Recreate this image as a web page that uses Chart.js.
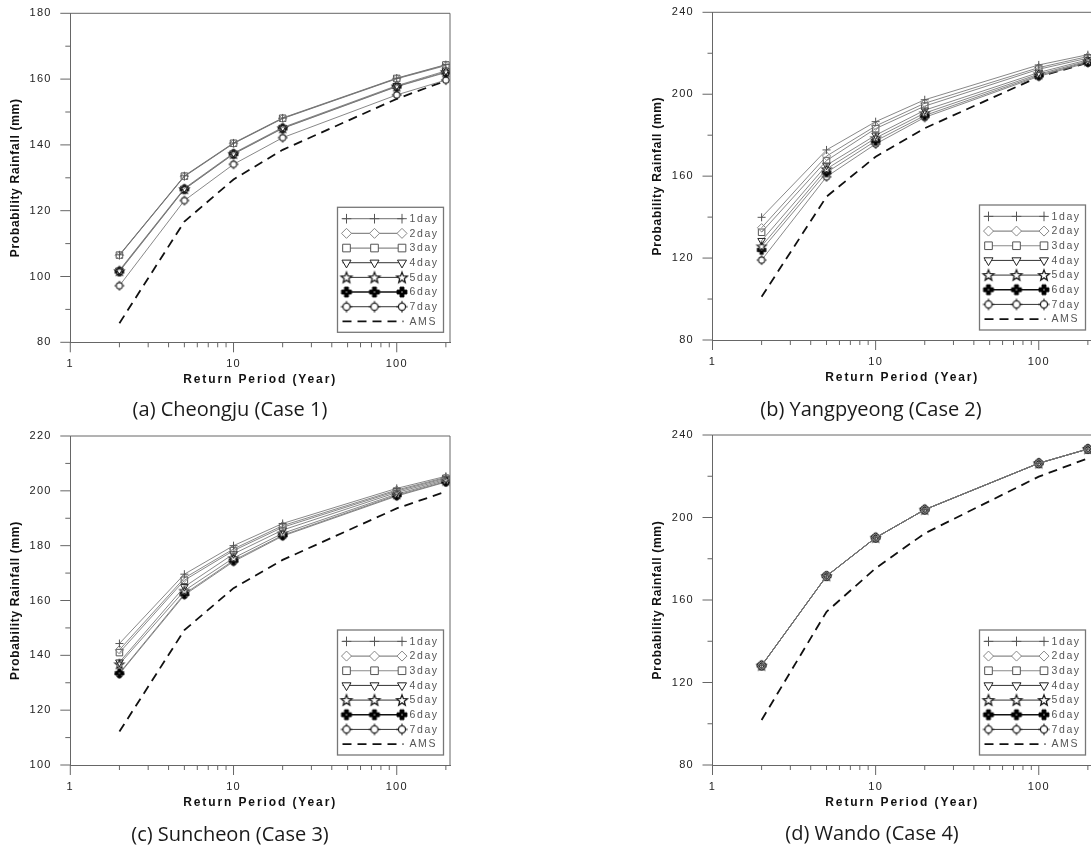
<!DOCTYPE html>
<html><head><meta charset="utf-8">
<script src="https://cdn.jsdelivr.net/npm/chart.js@4.4.1/dist/chart.umd.min.js"></script>
<style>
html,body{margin:0;padding:0;background:#fff;}
body{width:1091px;height:849px;overflow:hidden;position:relative;}
.panel{position:absolute;overflow:visible;}
canvas{display:block;}
.cap{position:absolute;font-family:"Open Sans",sans-serif;font-size:20px;color:#1a1a1a;white-space:nowrap;transform:translate(-50%,-50%);}
</style></head><body>
<div class="panel" style="left:0px;top:0px"><canvas id="ca"></canvas></div>
<div class="panel" style="left:545px;top:0px"><canvas id="cb"></canvas></div>
<div class="panel" style="left:0px;top:425px"><canvas id="cc"></canvas></div>
<div class="panel" style="left:545px;top:425px"><canvas id="cd"></canvas></div>
<div class="cap" style="left:230px;top:408px">(a) Cheongju (Case 1)</div>
<div class="cap" style="left:871px;top:408px">(b) Yangpyeong (Case 2)</div>
<div class="cap" style="left:230px;top:833px">(c) Suncheon (Case 3)</div>
<div class="cap" style="left:872px;top:832px">(d) Wando (Case 4)</div>
<script>
// ---------------- data ----------------
const periods = [2, 5, 10, 20, 100, 200];
const xTickValues = [1,2,3,4,5,6,7,8,9,10,20,30,40,50,60,70,80,90,100,200];
const xLabelValues = [1, 10, 100];
const seriesNames = ['1day','2day','3day','4day','5day','6day','7day','AMS'];

const yLabelsA = [80,100,120,140,160,180];
const yLabelsB = [80,120,160,200,240];
const yLabelsC = [100,120,140,160,180,200,220];
const yLabelsD = [80,120,160,200,240];

// (a) Cheongju
const a1day = [106.6,130.6,140.6,148.2,160.3,164.4];
const a2day = [106.4,130.4,140.4,148.0,160.1,164.1];
const a3day = [106.5,130.5,140.5,148.1,160.2,164.3];
const a4day = [101.9,126.8,137.5,145.3,158.0,162.5];
const a5day = [101.7,126.6,137.3,145.1,157.8,162.2];
const a6day = [101.5,126.5,137.2,145.0,157.7,162.0];
const a7day = [97.2,123.1,134.1,142.2,155.2,159.7];
const aAMS  = [85.8,116.7,129.5,138.5,154.0,159.5];

// (b) Yangpyeong
const b1day = [139.9,172.8,186.6,197.3,214.3,219.3];
const b2day = [134.8,169.8,184.5,195.6,213.0,218.4];
const b3day = [132.6,167.6,183.2,194.2,212.2,217.6];
const b4day = [128.5,165.3,180.0,192.2,210.6,216.8];
const b5day = [125.8,163.5,178.6,190.8,209.8,216.2];
const b6day = [124.0,161.8,177.2,189.6,209.2,215.8];
const b7day = [119.0,159.7,175.7,188.7,208.7,215.4];
const bAMS  = [101.1,150.0,169.5,183.4,208.5,215.4];

// (c) Suncheon
const c1day = [144.3,169.6,180.0,188.1,200.9,205.3];
const c2day = [142.0,168.2,178.8,187.3,200.3,204.9];
const c3day = [141.0,167.4,178.2,186.7,199.9,204.6];
const c4day = [137.5,165.0,177.0,185.7,199.4,204.2];
const c5day = [136.8,163.6,175.5,184.5,198.8,203.8];
const c6day = [133.5,162.4,174.6,183.8,198.4,203.4];
const c7day = [133.2,162.0,174.2,183.5,198.1,203.2];
const cAMS  = [112.2,149.2,164.5,174.8,193.6,199.7];

// (d) Wando
const d1day = [128.2,171.6,190.2,203.8,226.3,233.2];
const d2day = [128.2,171.6,190.2,203.8,226.3,233.2];
const d3day = [128.2,171.6,190.2,203.8,226.3,233.2];
const d4day = [128.2,171.6,190.2,203.8,226.3,233.2];
const d5day = [128.2,171.6,190.2,203.8,226.3,233.2];
const d6day = [128.2,171.6,190.2,203.8,226.3,233.2];
const d7day = [128.2,171.6,190.2,203.8,226.3,233.2];
const dAMS  = [101.8,154.3,175.4,192.3,219.8,228.7];

// ---------------- styles ----------------
const FONT = "'Liberation Sans', Arial, sans-serif";

function markerCanvas(kind, scale){
  const s = Math.round(14 * scale);
  const c = document.createElement('canvas');
  c.width = s; c.height = s;
  const g = c.getContext('2d');
  g.translate(s / 2, s / 2); g.scale(scale, scale);
  if (kind === 'star'){
    g.beginPath();
    for (let i = 0; i < 10; i++){
      const r = i % 2 === 0 ? 4.9 : 2.1;
      const a = -Math.PI / 2 + i * Math.PI / 5;
      const px = r * Math.cos(a), py = r * Math.sin(a) + 0.4;
      if (i === 0) g.moveTo(px, py); else g.lineTo(px, py);
    }
    g.closePath();
    g.fillStyle = '#fff'; g.fill();
    g.strokeStyle = '#1a1a1a'; g.lineWidth = 1.1; g.stroke();
  } else if (kind === 'thickcross'){
    const a = 4.3, t = 1.7;
    g.beginPath();
    g.moveTo(-t, -a); g.lineTo(t, -a); g.lineTo(t, -t); g.lineTo(a, -t); g.lineTo(a, t);
    g.lineTo(t, t); g.lineTo(t, a); g.lineTo(-t, a); g.lineTo(-t, t); g.lineTo(-a, t);
    g.lineTo(-a, -t); g.lineTo(-t, -t); g.closePath();
    g.fillStyle = '#000'; g.fill();
    g.strokeStyle = '#000'; g.lineWidth = 0.8; g.stroke();
    g.fillStyle = '#fff'; g.fillRect(-0.5, -0.5, 1, 1);
  } else if (kind === 'gear'){
    g.beginPath(); g.arc(0, 0, 3.1, 0, Math.PI * 2);
    g.fillStyle = '#fff'; g.fill();
    g.strokeStyle = '#222'; g.lineWidth = 1.1; g.stroke();
    g.beginPath();
    g.moveTo(0, -3.1); g.lineTo(0, -5); g.moveTo(0, 3.1); g.lineTo(0, 5);
    g.moveTo(-3.1, 0); g.lineTo(-5, 0); g.moveTo(3.1, 0); g.lineTo(5, 0);
    g.lineWidth = 1; g.stroke();
  }
  return c;
}

const starImg = markerCanvas('star', 1), starImgL = markerCanvas('star', 1.15);
const tcrossImg = markerCanvas('thickcross', 1), tcrossImgL = markerCanvas('thickcross', 1.15);
const gearImg = markerCanvas('gear', 1), gearImgL = markerCanvas('gear', 1.15);

const markerStyles = [
  {ps:'cross',    r:4,   bw:1,   pc:'#555', llc:'#8a8a8a', llw:1.2},
  {ps:'rectRot',  r:4.2, bw:1,   pc:'#888', llc:'#8a8a8a', llw:1.2},
  {ps:'rect',     r:4.6, bw:1,   pc:'#555', llc:'#8a8a8a', llw:1.2},
  {ps:'triangle', r:4.4, bw:1,   pc:'#222', llc:'#333',    llw:1, rot:180},
  {ps:starImg,    psL:starImgL,  r:4, bw:1, pc:'#222', llc:'#333', llw:1},
  {ps:tcrossImg,  psL:tcrossImgL, r:4, bw:1, pc:'#000', llc:'#111', llw:1.6},
  {ps:gearImg,    psL:gearImgL,  r:4, bw:1, pc:'#333', llc:'#333', llw:1}
];

const frameTicks = {
  id:'frameTicks',
  beforeDraw(chart){ chart.ctx.letterSpacing = '1.25px'; },
  afterDraw(chart){
    const ctx = chart.ctx, ca = chart.chartArea;
    const yl = chart.options.plugins.frameTicks.yLabels;
    ctx.save();
    ctx.letterSpacing = '0px';
    ctx.strokeStyle = '#666'; ctx.lineWidth = 1;
    ctx.beginPath();
    ctx.moveTo(ca.left, ca.top); ctx.lineTo(ca.right, ca.top); ctx.lineTo(ca.right, ca.bottom);
    ctx.stroke();
    const xs = chart.scales.x, ys = chart.scales.y;
    ctx.beginPath();
    xs.ticks.forEach(t => {
      const p = xs.getPixelForValue(t.value);
      const L = xLabelValues.includes(t.value) ? 10 : 5;
      ctx.moveTo(p, ca.bottom); ctx.lineTo(p, ca.bottom + L);
    });
    ys.ticks.forEach(t => {
      const p = ys.getPixelForValue(t.value);
      const L = yl.includes(t.value) ? 10 : 5;
      ctx.moveTo(ca.left, p); ctx.lineTo(ca.left - L, p);
    });
    ctx.stroke();
    ctx.restore();
  }
};

const boxLegend = {
  id:'boxLegend',
  afterDraw(chart){
    const ctx = chart.ctx, ca = chart.chartArea;
    const w = 106, h = 125, inR = 6.5, inB = 10, row0 = 11.4, rowH = 14.67;
    const bx = ca.right - inR - w, by = ca.bottom - inB - h;
    ctx.save();
    ctx.letterSpacing = '0px';
    ctx.fillStyle = '#fff'; ctx.fillRect(bx, by, w, h);
    ctx.strokeStyle = '#777'; ctx.lineWidth = 1.3; ctx.strokeRect(bx, by, w, h);
    chart.data.datasets.forEach((ds, i) => {
      const y = by + row0 + i * rowH;
      ctx.save();
      ctx.strokeStyle = ds.legendLineColor; ctx.lineWidth = ds.legendLineWidth;
      ctx.setLineDash(ds.borderDash || []);
      ctx.beginPath(); ctx.moveTo(bx + 5, y); ctx.lineTo(bx + 66, y); ctx.stroke();
      ctx.restore();
      if (ds.pointRadius > 0) {
        [9, 37, 64.5].forEach(m => {
          ctx.save();
          ctx.strokeStyle = ds.pointBorderColor; ctx.fillStyle = '#fff';
          ctx.lineWidth = ds.pointBorderWidth;
          Chart.helpers.drawPoint(ctx, {pointStyle: ds.legendPointStyle || ds.pointStyle, rotation: ds.pointRotation || 0,
            radius: ds.pointRadius + 0.8, borderWidth: ds.pointBorderWidth}, bx + m, y);
          ctx.restore();
        });
      }
      ctx.save();
      ctx.letterSpacing = '1.6px';
      ctx.font = '10.5px ' + FONT;
      ctx.fillStyle = '#555'; ctx.textBaseline = 'middle'; ctx.textAlign = 'left';
      ctx.fillText(ds.label, bx + 72, y + 0.5);
      ctx.restore();
    });
    ctx.restore();
  }
};

function patchTitle(scale, spacing){
  if (scale._lsPatched) return;
  const orig = scale.drawTitle.bind(scale);
  scale.drawTitle = function(){
    const c = this.ctx; c.save(); c.letterSpacing = spacing; orig(); c.restore();
  };
  scale._lsPatched = true;
}

function makeChart(id, geo, series, ams, yLabels){
  const canvas = document.getElementById(id);
  canvas.width = geo.w; canvas.height = geo.h;
  canvas.style.width = geo.w + 'px'; canvas.style.height = geo.h + 'px';
  const yMin = yLabels[0], yMax = yLabels[yLabels.length - 1];
  const yStep = (yLabels[1] - yLabels[0]) / 2;
  const datasets = series.map((vals, i) => {
    const st = markerStyles[i];
    return {
      label: seriesNames[i],
      data: periods.map((p, j) => ({x: p, y: vals[j]})),
      borderColor: '#737373', borderWidth: 0.85,
      pointStyle: st.ps, legendPointStyle: st.psL, pointRadius: st.r, pointBorderColor: st.pc,
      pointBackgroundColor: 'rgba(255,255,255,0)', pointBorderWidth: st.bw,
      pointRotation: st.rot || 0, fill: false, tension: 0,
      legendLineColor: st.llc, legendLineWidth: st.llw
    };
  });
  datasets.push({
    label: 'AMS', data: periods.map((p, j) => ({x: p, y: ams[j]})),
    borderColor: '#111', borderWidth: 1.8, borderDash: [9, 6], pointRadius: 0,
    fill: false, tension: 0, legendLineColor: '#111', legendLineWidth: 1.8
  });
  return new Chart(canvas, {
    type: 'line',
    data: {datasets},
    options: {
      responsive: false, animation: false, events: [], devicePixelRatio: 1,
      layout: {padding: {left: geo.pl - 70.3, top: geo.pt, right: geo.w - geo.pr, bottom: geo.h - geo.pb - 45}},
      plugins: {legend: {display: false}, tooltip: {enabled: false}, frameTicks: {yLabels}},
      scales: {
        x: {
          type: 'logarithmic', min: 1, max: 212,
          afterFit(s){ s.height = 45; patchTitle(s, '1.9px'); },
          afterBuildTicks(s){ s.ticks = xTickValues.map(v => ({value: v})); },
          grid: {display: false, drawTicks: true, tickLength: 15.5},
          border: {display: true, color: '#666', width: 1},
          ticks: {autoSkip: false, maxRotation: 0, minRotation: 0, padding: 0, color: '#222',
            font: {family: FONT, size: 11},
            callback: (v) => xLabelValues.includes(v) ? String(v) : ''},
          title: {display: true, text: 'Return Period (Year)', color: '#111',
            font: {family: FONT, size: 12, weight: 'bold'}, padding: {top: 0, bottom: 0}}
        },
        y: {
          min: yMin, max: yMax,
          afterFit(s){ s.width = 70.3; patchTitle(s, '0.7px'); },
          grid: {display: false, drawTicks: true, tickLength: 18.6},
          border: {display: true, color: '#666', width: 1},
          ticks: {stepSize: yStep, padding: 0, color: '#222', autoSkip: false,
            font: {family: FONT, size: 11},
            callback: (v) => yLabels.includes(v) ? String(v) : ''},
          title: {display: true, text: 'Probability Rainfall (mm)', color: '#111',
            font: {family: FONT, size: 12, weight: 'bold'}, padding: {top: 8.5, bottom: 0}}
        }
      }
    },
    plugins: [frameTicks, boxLegend]
  });
}

makeChart('ca', {w:545, h:425, pl:70.3, pr:450, pt:13.3, pb:342.3},
  [a1day,a2day,a3day,a4day,a5day,a6day,a7day], aAMS, yLabelsA);
makeChart('cb', {w:560, h:425, pl:167.5, pr:547, pt:12.3, pb:340},
  [b1day,b2day,b3day,b4day,b5day,b6day,b7day], bAMS, yLabelsB);
makeChart('cc', {w:545, h:424, pl:70.3, pr:450, pt:11, pb:340},
  [c1day,c2day,c3day,c4day,c5day,c6day,c7day], cAMS, yLabelsC);
makeChart('cd', {w:560, h:424, pl:167.5, pr:547, pt:10, pb:340},
  [d1day,d2day,d3day,d4day,d5day,d6day,d7day], dAMS, yLabelsD);
</script>
</body></html>
